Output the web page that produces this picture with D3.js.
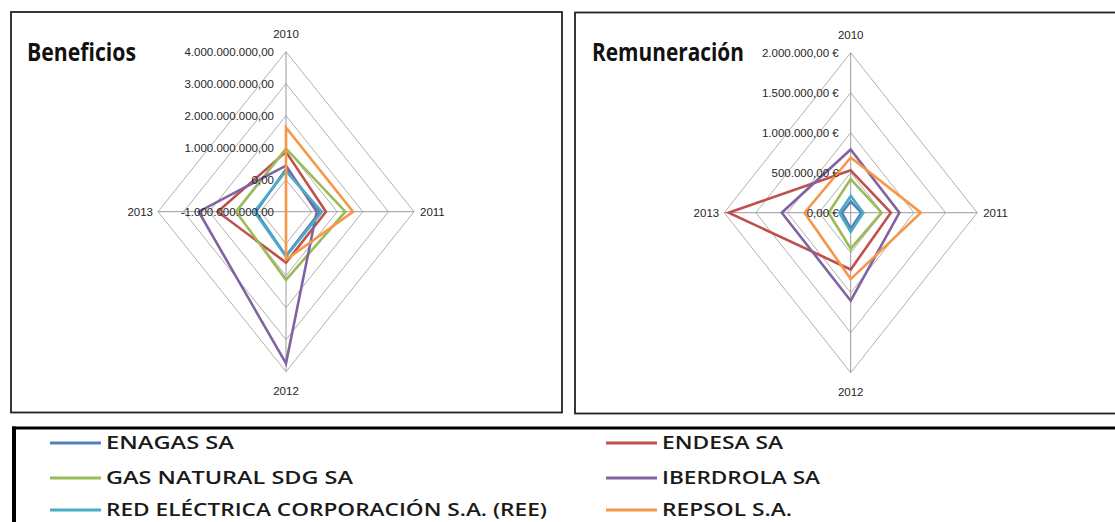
<!DOCTYPE html>
<html>
<head>
<meta charset="utf-8">
<script src="https://cdnjs.cloudflare.com/ajax/libs/d3/7.8.5/d3.min.js"></script>
<style>
  body { margin: 0; background: #fff; }
  svg { display: block; }
  .tick { font-family: "Liberation Sans", Arial, sans-serif; font-size: 11.5px; fill: #262626; }
  .title { font-family: "Liberation Sans Narrow", "Open Sans", sans-serif; font-weight: 700; font-size: 25px; fill: #111; }
  .leg { font-family: "Open Sans", sans-serif; font-weight: 600; font-size: 18px; fill: #1a1a1a; }
</style>
</head>
<body>
<svg id="chart" width="1115" height="522"></svg>
<script>
// years on the spokes (top, right, bottom, left)
var years = ["2010", "2011", "2012", "2013"];
var companies = ["ENAGAS SA", "ENDESA SA", "GAS NATURAL SDG SA", "IBERDROLA SA", "RED ELÉCTRICA CORPORACIÓN S.A. (REE)", "REPSOL S.A."];
var colors = ["#4f81bd", "#c0504d", "#9bbb59", "#8064a2", "#4bacc6", "#f79646"];

// Beneficios per company (2010..2013)
var benEnagas  = [0.33e9, 0.33e9, 0.38e9, 0.18e9];
var benEndesa  = [0.87e9, 0.56e9, 0.59e9, 1.67e9];
var benGas     = [0.97e9, 1.32e9, 1.13e9, 0.95e9];
var benIberd   = [0.44e9, 0.20e9, 3.74e9, 2.41e9];
var benRee     = [0.27e9, 0.40e9, 0.40e9, 0.24e9];
var benRepsol  = [1.63e9, 1.62e9, 0.50e9, -1.0e9];
var benTicks = [-1e9, 0, 1e9, 2e9, 3e9, 4e9];
var benTickLabels = ["-1.000.000.000,00", "0,00", "1.000.000.000,00", "2.000.000.000,00", "3.000.000.000,00", "4.000.000.000,00"];

// Remuneracion per company (2010..2013)
var remEnagas  = [0.14e6, 0.17e6, 0.20e6, 0.14e6];
var remEndesa  = [0.53e6, 0.635e6, 0.71e6, 1.93e6];
var remGas     = [0.42e6, 0.49e6, 0.45e6, 0.35e6];
var remIberd   = [0.79e6, 0.77e6, 1.10e6, 1.09e6];
var remRee     = [0.21e6, 0.20e6, 0.24e6, 0.18e6];
var remRepsol  = [0.69e6, 1.11e6, 0.83e6, 0.73e6];
var remTicks = [0, 0.5e6, 1e6, 1.5e6, 2e6];
var remTickLabels = ["0,00 €", "500.000,00 €", "1.000.000,00 €", "1.500.000,00 €", "2.000.000,00 €"];

// legend text widths as drawn in the original
var legendWidths = [128, 121, 247, 158, 441, 130];

var svg = d3.select("#chart");

// panel frames
svg.append("rect").attr("x", 11).attr("y", 12).attr("width", 551).attr("height", 400.5)
    .attr("fill", "none").attr("stroke", "#222").attr("stroke-width", 1.8);
svg.append("rect").attr("x", 575).attr("y", 12.5).attr("width", 560).attr("height", 401)
    .attr("fill", "none").attr("stroke", "#222").attr("stroke-width", 1.8);

function radar(cfg) {
    var g = svg.append("g");
    var rx = d3.scaleLinear().domain(cfg.domain).range([0, cfg.rx]);
    var ry = d3.scaleLinear().domain(cfg.domain).range([0, cfg.ry]);
    var pt = function (v, i) {
        var a = i * Math.PI / 2;
        return [cfg.cx + Math.sin(a) * rx(v), cfg.cy - Math.cos(a) * ry(v)];
    };
    var line = d3.line().curve(d3.curveLinearClosed);

    // grid rings
    g.selectAll(".ring").data(cfg.ticks.slice(1)).enter().append("path")
        .attr("d", function (t) { return line(years.map(function (y, i) { return pt(t, i); })); })
        .attr("fill", "none").attr("stroke", "#b0b0b0").attr("stroke-width", 1);
    // spokes
    var top = cfg.domain[1];
    g.selectAll(".spoke").data(years).enter().append("line")
        .attr("x1", cfg.cx).attr("y1", cfg.cy)
        .attr("x2", function (y, i) { return pt(top, i)[0]; })
        .attr("y2", function (y, i) { return pt(top, i)[1]; })
        .attr("stroke", "#9a9a9a").attr("stroke-width", 1);

    // series
    g.selectAll(".series").data(cfg.series).enter().append("path")
        .attr("d", function (s) { return line(s.map(pt)); })
        .attr("fill", "none")
        .attr("stroke", function (s, i) { return colors[i]; })
        .attr("stroke-width", 2.6).attr("stroke-linejoin", "miter");

    // tick labels
    g.selectAll(".tl").data(cfg.ticks).enter().append("text")
        .attr("class", "tick")
        .attr("x", cfg.cx - 12)
        .attr("y", function (t) { return cfg.cy - ry(t); })
        .attr("dy", "0.35em").attr("text-anchor", "end")
        .text(function (t, i) { return cfg.tickLabels[i]; });

    // year labels
    var yl = [
        [cfg.cx, cfg.cy - cfg.ry - 18, "middle"],
        [cfg.cx + cfg.rx + 6, cfg.cy, "start"],
        [cfg.cx, cfg.cy + cfg.ry + 19, "middle"],
        [cfg.cx - cfg.rx - 5, cfg.cy, "end"]
    ];
    g.selectAll(".yl").data(years).enter().append("text")
        .attr("class", "tick")
        .attr("x", function (y, i) { return yl[i][0]; })
        .attr("y", function (y, i) { return yl[i][1]; })
        .attr("dy", "0.35em")
        .attr("text-anchor", function (y, i) { return yl[i][2]; })
        .text(function (y) { return y; });

    // title, squeezed to the width it has in the original
    var tg = svg.append("g");
    var tt = tg.append("text").attr("class", "title").attr("x", 0).attr("y", 0).text(cfg.title);
    var w = tt.node().getComputedTextLength();
    tg.attr("transform", "translate(" + cfg.titleX + ",61) scale(" + (cfg.titleW / w) + ",1)");
}

radar({
    cx: 286, cy: 211.7, rx: 128, ry: 160,
    domain: [-1e9, 4e9], ticks: benTicks, tickLabels: benTickLabels,
    series: [benEnagas, benEndesa, benGas, benIberd, benRee, benRepsol],
    title: "Beneficios", titleX: 27, titleW: 109
});
radar({
    cx: 850.7, cy: 212.7, rx: 126.5, ry: 160,
    domain: [0, 2e6], ticks: remTicks, tickLabels: remTickLabels,
    series: [remEnagas, remEndesa, remGas, remIberd, remRee, remRepsol],
    title: "Remuneración", titleX: 592, titleW: 152
});

// legend box
svg.append("line").attr("x1", 12).attr("x2", 1115).attr("y1", 428).attr("y2", 428)
    .attr("stroke", "#000").attr("stroke-width", 3);
svg.append("line").attr("x1", 14).attr("x2", 14).attr("y1", 426.5).attr("y2", 522)
    .attr("stroke", "#000").attr("stroke-width", 4);

var legRows = [443, 478, 510];
var leg = svg.append("g").selectAll("g").data(companies).enter().append("g")
    .attr("transform", function (c, i) {
        var col = i % 2, row = Math.floor(i / 2);
        return "translate(" + (col ? 606 : 50) + "," + legRows[row] + ")";
    });
leg.append("line").attr("x1", 0).attr("x2", 51).attr("y1", 0).attr("y2", 0)
    .attr("stroke", function (c, i) { return colors[i]; }).attr("stroke-width", 2.8);
leg.append("text").attr("class", "leg").attr("x", 56).attr("dy", "0.36em")
    .attr("textLength", function (c, i) { return legendWidths[i]; })
    .attr("lengthAdjust", "spacingAndGlyphs")
    .text(function (c) { return c; });
</script>
</body>
</html>
